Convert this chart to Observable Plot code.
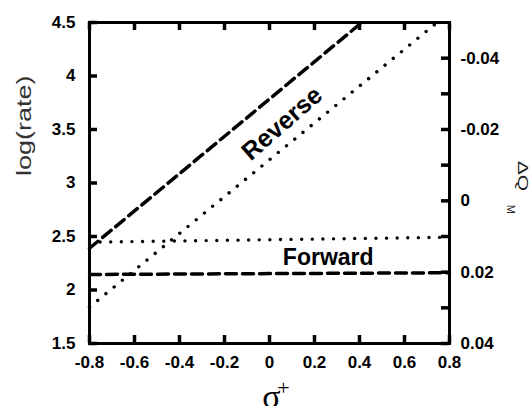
<!DOCTYPE html>
<html><head><meta charset="utf-8">
<script src="https://cdn.jsdelivr.net/npm/d3@7"></script>
<script src="https://cdn.jsdelivr.net/npm/@observablehq/plot@0.6"></script>
<style>body{margin:0;background:#fff}</style>
</head><body><div id="chart"></div>
<script>
// ---- data ----
const sigmaTicks = [-0.8, -0.6, -0.4, -0.2, 0, 0.2, 0.4, 0.6, 0.8];
const sigmaTickLabels = ["-0.8", "-0.6", "-0.4", "-0.2", "0", "0.2", "0.4", "0.6", "0.8"];
const rateTicks = [1.5, 2, 2.5, 3, 3.5, 4, 4.5];
const rateTickLabels = ["1.5", "2", "2.5", "3", "3.5", "4", "4.5"];
const dqTicks = [-0.04, -0.03, -0.02, -0.01, 0, 0.01, 0.02, 0.03, 0.04];
const dqLabeled = [-0.04, -0.02, 0, 0.02, 0.04];
const dqTickLabels = ["-0.04", "-0.02", "0", "0.02", "0.04"];
const dqDomain = [-0.05, 0.04]; // right axis: top -> bottom

const reverseDashedSigma = [-0.8, 0.41];
const reverseDashedRate = [2.39, 4.5];
const reverseDottedSigma = [-0.8, 0.745];
const reverseDottedRate = [1.84, 4.5];
const forwardDottedSigma = [-0.8, 0.8];
const forwardDottedRate = [2.447, 2.493];
const forwardDashedSigma = [-0.8, 0.8];
const forwardDashedRate = [2.145, 2.161];

const labelTexts = ["Reverse", "Forward"];
const labelSigma = [0.056, 0.261];
const labelRate = [3.556, 2.304];

// ---- layout ----
const W = 532, H = 406, ML = 89, MR = 83, MT = 22, MB = 63, TICK = 8;
const FW = W - ML - MR, FH = H - MT - MB;

// ---- helpers ----
const rows = (xs, ys) => xs.map((x, i) => ({x, y: ys[i]}));
const dqToRate = d3.scaleLinear().domain(dqDomain).range([4.5, 1.5]);
const xLab = new Map(sigmaTicks.map((v, i) => [v, sigmaTickLabels[i]]));
const yLab = new Map(rateTicks.map((v, i) => [v, rateTickLabels[i]]));
const rightTickPos = dqLabeled.map(dqToRate);
const rLab = new Map(rightTickPos.map((v, i) => [v, dqTickLabels[i]]));

const SANS = "'Liberation Sans', Arial, sans-serif";
const SERIF = "'Liberation Serif', 'Times New Roman', serif";
const dash = {stroke: "#000", strokeWidth: 3.5, strokeDasharray: "11 6"};
const dot = {stroke: "#000", strokeWidth: 3.4, strokeDasharray: "0.01 10.6", strokeLinecap: "round"};
const tk = {stroke: "#000", strokeWidth: 3.5, strokeOpacity: 1};
const labStyle = {label: null, tickSize: 0, fontSize: 17, fontWeight: "bold", fill: "#000"};

const chart = Plot.plot({
  width: W, height: H,
  marginLeft: ML, marginRight: MR, marginTop: MT, marginBottom: MB,
  style: {fontFamily: SANS, background: "#fff", overflow: "visible"},
  x: {domain: [-0.8, 0.8]},
  y: {domain: [1.5, 4.5]},
  marks: [
    Plot.line(rows(reverseDashedSigma, reverseDashedRate), {x: "x", y: "y", ...dash}),
    Plot.line(rows(reverseDottedSigma, reverseDottedRate), {x: "x", y: "y", ...dot}),
    Plot.line(rows(forwardDottedSigma, forwardDottedRate), {x: "x", y: "y", ...dot}),
    Plot.line(rows(forwardDashedSigma, forwardDashedRate), {x: "x", y: "y", ...dash}),
    Plot.frame({stroke: "#000", strokeWidth: 3}),
    // inward ticks on all four sides (drawn after the frame)
    Plot.tickX(sigmaTicks, {x: d => d, insetTop: FH - TICK, ...tk}),
    Plot.tickX(sigmaTicks, {x: d => d, insetBottom: FH - TICK, ...tk}),
    Plot.tickY(rateTicks, {y: d => d, insetRight: FW - TICK, ...tk}),
    Plot.tickY(dqTicks.map(dqToRate), {y: d => d, insetLeft: FW - TICK, ...tk}),
    // tick labels
    Plot.axisX({anchor: "bottom", ticks: sigmaTicks, tickPadding: 12, tickFormat: d => xLab.get(d), ...labStyle}),
    Plot.axisY({anchor: "left", ticks: rateTicks, tickPadding: 14, tickFormat: d => yLab.get(d), ...labStyle}),
    Plot.axisY({anchor: "right", ticks: rightTickPos, tickPadding: 11, tickFormat: d => rLab.get(d), ...labStyle}),
    // in-plot labels
    Plot.text([0], {x: i => labelSigma[i], y: i => labelRate[i], text: i => labelTexts[i], rotate: -41, fontSize: 25, fontWeight: "bold", fill: "#000"}),
    Plot.text([1], {x: i => labelSigma[i], y: i => labelRate[i], text: i => labelTexts[i], fontSize: 23, fontWeight: "bold", fill: "#000"}),
    // axis titles
    Plot.text(["log(rate)"], {frameAnchor: "left", dx: -65, dy: -7, rotate: -90, fontSize: 20, fill: "#333", className: "ylab"}),
    Plot.text(["\u0394Q"], {frameAnchor: "right", dx: 73, dy: 8, rotate: 90, fontSize: 15, fill: "#222", className: "rlab"}),
    Plot.text(["M"], {frameAnchor: "right", dx: 61, dy: 31, rotate: 90, fontSize: 11, fill: "#222"}),
    Plot.text(["\u03c3"], {frameAnchor: "bottom", dx: 2, dy: 64, lineAnchor: "bottom", fontSize: 34, fontFamily: SERIF, fill: "#000"}),
    Plot.text(["+"], {frameAnchor: "bottom", dx: 14, dy: 44, lineAnchor: "middle", fontSize: 22, fontFamily: SERIF, fill: "#000"})
  ]
});
document.getElementById("chart").appendChild(chart);
d3.select(chart).selectAll(".ylab text").attr("transform", function () { return (this.getAttribute("transform") || "") + " scale(1.35,1)"; });
d3.select(chart).selectAll(".rlab text").attr("transform", function () { return (this.getAttribute("transform") || "") + " scale(1.4,1)"; });
</script>
</body></html>
